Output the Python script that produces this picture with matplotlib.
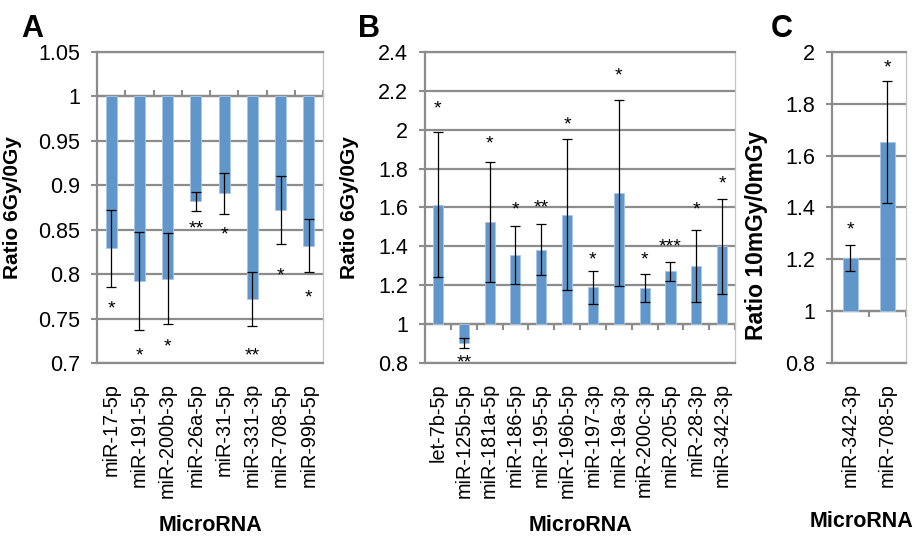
import numpy as np
import matplotlib
matplotlib.use("Agg")
import matplotlib.pyplot as plt

plt.rcParams["font.family"] = ["Liberation Sans", "DejaVu Sans"]

# panel A: 6 Gy, down-regulated
a_names = ["miR-17-5p", "miR-191-5p", "miR-200b-3p", "miR-26a-5p",
           "miR-31-5p", "miR-331-3p", "miR-708-5p", "miR-99b-5p"]
a_vals = [0.829, 0.792, 0.795, 0.882, 0.891, 0.772, 0.872, 0.832]
a_err = [0.043, 0.055, 0.051, 0.0105, 0.023, 0.030, 0.038, 0.030]
a_sig = ["*", "*", "*", "**", "*", "**", "*", "*"]
a_sig_y = [0.769, 0.716, 0.726, 0.859, 0.852, 0.716, 0.806, 0.781]
a_ticks = [0.7, 0.75, 0.8, 0.85, 0.9, 0.95, 1.0, 1.05]
a_ticklabels = ["0.7", "0.75", "0.8", "0.85", "0.9", "0.95", "1", "1.05"]

# panel B: 6 Gy, up-regulated
b_names = ["let-7b-5p", "miR-125b-5p", "miR-181a-5p", "miR-186-5p",
           "miR-195-5p", "miR-196b-5p", "miR-197-3p", "miR-19a-3p",
           "miR-200c-3p", "miR-205-5p", "miR-28-3p", "miR-342-3p"]
b_vals = [1.615, 0.902, 1.526, 1.354, 1.383, 1.563, 1.189, 1.675,
          1.186, 1.271, 1.299, 1.400]
b_err = [0.373, 0.027, 0.31, 0.15, 0.13, 0.39, 0.085, 0.477,
         0.072, 0.047, 0.184, 0.243]
b_sig = ["*", "**", "*", "*", "**", "*", "*", "*", "*", "***", "*", "*"]
b_sig_y = [2.146, 0.837, 1.962, 1.624, 1.636, 2.06, 1.366, 2.314,
           1.366, 1.433, 1.624, 1.759]
b_ticks = [0.8, 1.0, 1.2, 1.4, 1.6, 1.8, 2.0, 2.2, 2.4]
b_ticklabels = ["0.8", "1", "1.2", "1.4", "1.6", "1.8", "2", "2.2", "2.4"]

# panel C: 10 mGy
c_names = ["miR-342-3p", "miR-708-5p"]
c_vals = [1.206, 1.653]
c_err = [0.05, 0.235]
c_sig = ["*", "*"]
c_sig_y = [1.341, 1.967]
c_ticks = [0.8, 1.0, 1.2, 1.4, 1.6, 1.8, 2.0]
c_ticklabels = ["0.8", "1", "1.2", "1.4", "1.6", "1.8", "2"]

BAR = "#6096c9"
GRID = "#8c8c8c"

fig = plt.figure(figsize=(9.17, 5.36), dpi=100)


def panel(rect, names, vals, err, sig, sig_y, ticks, ticklabels,
          ylabel, ylab_size, ylab_xy, xlab_xy, letter, letter_x):
    ax = fig.add_axes(rect)
    x = np.arange(len(names))
    vals = np.array(vals)
    ax.set_axisbelow(True)
    ax.bar(x, vals - 1, bottom=1, width=0.39, color=BAR,
           edgecolor="#a9c7e6", linewidth=0.6, zorder=2)
    ax.errorbar(x, vals, yerr=err, fmt="none", ecolor="black",
                elinewidth=0.9, capsize=3.5, capthick=0.9, zorder=3)
    for xi, s, sy in zip(x, sig, sig_y):
        ax.annotate(s, (xi, sy), xytext=(0, -8.5), textcoords="offset points",
                    ha="center", va="baseline", fontsize=14)

    ax.set_xlim(-0.5, len(names) - 0.5)
    ax.set_ylim(ticks[0], ticks[-1])
    ax.set_yticks(ticks)
    ax.set_yticklabels(ticklabels)
    ax.yaxis.grid(True, color=GRID, linewidth=1.6)
    ax.tick_params(axis="y", labelsize=15.5, length=4, width=1.5,
                   color=GRID, pad=8)

    ax.set_xticks(x)
    ax.set_xticklabels(names, rotation=90)
    ax.tick_params(axis="x", length=0, labelsize=14.3, pad=14.5)

    for side in ["left", "top", "bottom"]:
        ax.spines[side].set_color(GRID)
        ax.spines[side].set_linewidth(1.6)
    ax.spines["right"].set_color("#c4c4c4")
    ax.spines["right"].set_linewidth(0.9)

    # category axis crossing at 1
    pos = (1 - ticks[0]) / (ticks[-1] - ticks[0])
    sec = ax.secondary_xaxis(pos)
    sec.set_xticks(np.arange(len(names) + 1) - 0.5)
    sec.set_xticklabels([])
    sec.tick_params(length=4, width=1.5, color=GRID)
    for sp in sec.spines.values():
        sp.set_color(GRID)
        sp.set_linewidth(1.6)

    ax.set_ylabel(ylabel, fontsize=ylab_size, fontweight="bold")
    ax.yaxis.set_label_coords(*ylab_xy)
    ax.set_xlabel("MicroRNA", fontsize=15.5, fontweight="bold")
    ax.xaxis.label.set_va("baseline")
    ax.xaxis.set_label_coords(*xlab_xy)

    fig.text(letter_x / 917, 1 - 37 / 536, letter, fontsize=22,
             fontweight="bold", ha="center", va="baseline")
    return ax


panel([0.1058, 0.3228, 0.2465, 0.5802], a_names, a_vals, a_err, a_sig,
      a_sig_y, a_ticks, a_ticklabels, "Ratio 6Gy/0Gy", 15,
      (-0.332, 0.5), (0.5, -0.54), "A", 32)
panel([0.4635, 0.3228, 0.3381, 0.5802], b_names, b_vals, b_err, b_sig,
      b_sig_y, b_ticks, b_ticklabels, "Ratio 6Gy/0Gy", 15,
      (-0.213, 0.5), (0.5, -0.54), "B", 369)
panel([0.9073, 0.3228, 0.0807, 0.5802], c_names, c_vals, c_err, c_sig,
      c_sig_y, c_ticks, c_ticklabels, "Ratio 10mGy/0mGy", 16.5,
      (-0.86, 0.41), (0.405, -0.527), "C", 782)

fig.savefig("out.png", dpi=100)
